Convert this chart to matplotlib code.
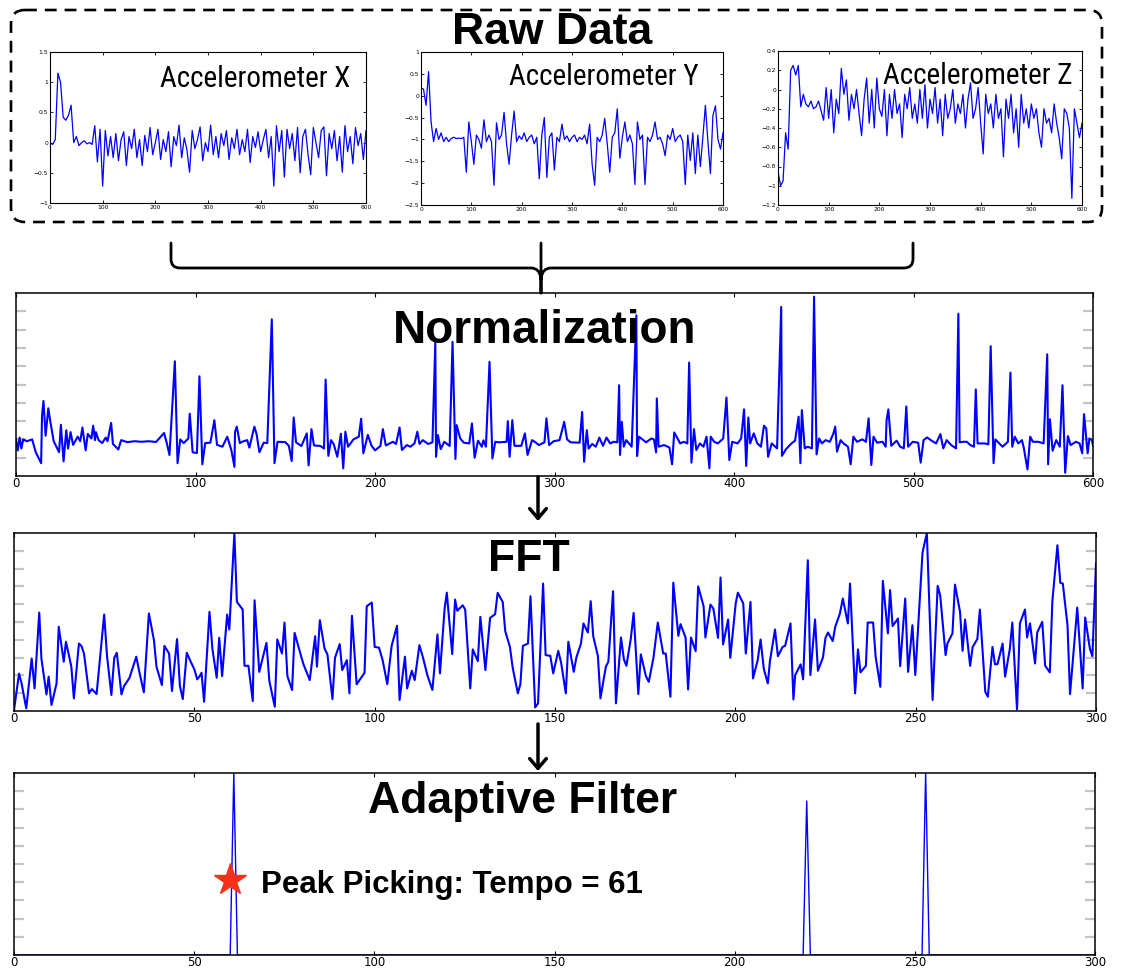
import numpy as np
import matplotlib
matplotlib.use("Agg")
import matplotlib.pyplot as plt
from matplotlib.path import Path
from matplotlib.patches import PathPatch, FancyBboxPatch

W, H = 1122, 969
BLUE = "#0000ff"
STAR_RED = "#f5311a"
TITLE_FONT = ["Liberation Sans", "DejaVu Sans"]
NARROW_FONT = ["Liberation Sans Narrow", "DejaVu Sans Condensed", "Roboto Condensed", "Liberation Sans"]

raw_x = [0.0, -0.03, 0.05, 1.15, 1.0, 0.42, 0.37, 0.45, 0.62, 0.0, 0.1, -0.05, 0.0, 0.03, -0.02, 0.0, -0.03,
         0.28, -0.32, 0.22, -0.72, 0.2, -0.22, 0.1, -0.25, 0.15, -0.3, 0.05, 0.18, -0.38, 0.1, -0.1, 0.22,
         -0.25, 0.05, -0.38, 0.12, -0.15, 0.25, -0.2, 0.0, 0.22, -0.28, 0.05, -0.15, 0.18, -0.4, 0.1, -0.05,
         0.29, -0.25, 0.08, -0.12, -0.49, 0.2, -0.1, 0.05, 0.26, -0.3, 0.0, -0.15, 0.29, -0.2, 0.1, -0.25,
         0.15, -0.05, 0.2, -0.28, 0.08, -0.1, 0.22, -0.2, 0.05, -0.15, 0.22, -0.33, 0.1, -0.08, 0.18, -0.15,
         0.05, 0.22, -0.25, 0.1, -0.72, 0.28, -0.15, 0.2, -0.57, 0.22, -0.1, 0.15, -0.3, 0.25, -0.5, 0.1,
         0.22, -0.2, -0.53, 0.25, 0.0, -0.25, 0.2, 0.26, -0.55, 0.15, -0.1, 0.2, -0.3, 0.1, -0.49, 0.28,
         -0.15, 0.1, -0.35, 0.25, -0.05, 0.15, -0.28, 0.2]
raw_y = [0.18, 0.15, -0.22, 0.55, -0.6, -1.05, -0.75, -1.0, -0.85, -1.05, -0.95, -1.05, -0.98, -0.95, -0.98,
         -0.97, -0.98, -0.95, -1.75, -0.6, -1.05, -1.57, -0.9, -1.0, -1.2, -0.55, -1.05, -0.9, -1.05, -2.05,
         -0.62, -1.0, -0.9, -0.38, -1.1, -1.57, -0.9, -0.35, -1.05, -0.92, -1.0, -0.85, -1.05, -0.95, -0.9,
         -1.1, -0.95, -1.9, -0.9, -0.5, -1.87, -0.95, -0.85, -1.7, -0.95, -1.05, -0.65, -1.0, -0.92, -1.05,
         -0.95, -0.9, -1.05, -0.95, -1.0, -0.9, -1.1, -0.65, -1.57, -2.05, -0.95, -1.05, -0.9, -0.52, -1.1,
         -1.75, -0.95, -0.85, -0.3, -1.43, -0.95, -0.6, -1.05, -0.9, -1.1, -2.03, -0.6, -1.0, -0.9, -2.03,
         -0.95, -1.05, -0.9, -0.6, -1.0, -0.95, -1.1, -1.37, -0.9, -1.0, -0.75, -1.05, -0.95, -0.9, -1.05,
         -2.03, -0.9, -1.48, -0.85, -1.78, -0.9, -1.62, -0.95, -0.22, -1.05, -1.78, -0.45, -0.23, -1.0,
         -1.22, -0.85]
raw_z = [-0.85, -1.0, -0.95, -0.45, -0.62, 0.2, 0.25, 0.15, 0.25, -0.18, -0.05, -0.15, -0.18, -0.12, -0.2,
         -0.18, -0.12, -0.22, -0.32, 0.02, -0.3, 0.0, -0.45, -0.1, -0.25, 0.22, -0.05, 0.1, -0.32, -0.05,
         -0.2, 0.0, -0.25, -0.48, -0.1, 0.12, -0.35, 0.0, -0.4, 0.12, -0.2, -0.28, 0.0, -0.48, -0.05, -0.3,
         0.0, -0.25, -0.15, -0.5, -0.05, -0.2, 0.02, -0.3, -0.15, -0.35, 0.0, -0.3, 0.05, -0.4, -0.1, -0.25,
         0.02, -0.35, -0.1, -0.48, -0.05, -0.3, -0.2, 0.0, -0.35, -0.15, -0.25, -0.05, -0.4, -0.1, 0.07,
         -0.3, -0.2, 0.02, -0.35, -0.67, -0.05, -0.25, -0.15, -0.4, -0.05, -0.3, -0.2, -0.7, -0.1, -0.3,
         -0.05, -0.45, -0.2, -0.6, -0.05, -0.35, -0.2, -0.4, -0.15, -0.3, -0.2, -0.45, -0.6, -0.2, -0.35,
         -0.3, -0.45, -0.15, -0.35, -0.5, -0.72, -0.2, -0.25, -0.4, -1.13, -0.2, -0.35, -0.5, -0.35]

raw_xticks = [0, 100, 200, 300, 400, 500, 600]
x_yticks = [-1, -0.5, 0, 0.5, 1, 1.5]
x_ylabels = ["\u22121", "\u22120.5", "0", "0.5", "1", "1.5"]
y_yticks = [-2.5, -2, -1.5, -1, -0.5, 0, 0.5, 1]
y_ylabels = ["\u22122.5", "\u22122", "\u22121.5", "\u22121", "\u22120.5", "0", "0.5", "1"]
z_yticks = [-1.2, -1, -0.8, -0.6, -0.4, -0.2, 0, 0.2, 0.4]
z_ylabels = ["\u22121.2", "\u22121", "\u22120.8", "\u22120.6", "\u22120.4", "\u22120.2", "0", "0.2", "0.4"]

# --- normalized signal (sample, value in tick units 0..10) ---
norm_pts = [
    (0, 2.0), (1, 1.4), (2, 2.1), (3, 1.5), (4, 2.0), (6, 1.9), (9, 2.0), (11, 1.3), (14, 0.7), (14.5, 3.3),
    (15.3, 4.1), (16.5, 2.2), (18, 3.7), (19, 3.05), (21, 1.9), (24, 1.3), (25, 2.8), (26.5, 0.8), (28, 2.5),
    (29, 1.5), (30.4, 2.4), (31.8, 1.7), (34.4, 2.15), (35.8, 1.9), (37, 2.65), (38.8, 1.4), (40, 2.3),
    (42, 2.05), (43, 2.75), (44, 1.96), (44.5, 2.4), (46, 1.96), (48, 1.8), (50, 2.1), (51, 1.9), (53, 2.9),
    (54, 1.75), (57, 1.45), (58.6, 1.96), (62, 1.85), (66, 1.9), (70, 1.87), (74, 1.9), (78, 1.86),
    (82.5, 2.35), (84, 1.8), (85.5, 1.15), (88.5, 6.27), (90, 0.7), (91.5, 2.0), (93.4, 1.8), (96, 2.05),
    (96.8, 3.4), (98.4, 1.3), (100.8, 1.25), (102.2, 5.45), (103.8, 0.64), (105.4, 1.8), (108.3, 1.82),
    (110.5, 3.05), (112, 1.7), (115, 1.6), (117.7, 2.15), (120, 1.4), (121.7, 0.5), (122, 2.4), (123, 2.7),
    (124.7, 1.8), (126.2, 1.88), (128.8, 1.96), (130, 1.55), (132.8, 2.7), (134, 2.3), (135.6, 1.3),
    (138, 1.82), (140, 1.8), (142.5, 8.56), (144, 0.7), (145.7, 1.87), (150, 1.85), (152, 1.65),
    (153.6, 0.82), (154.7, 3.2), (156, 1.84), (159, 1.64), (162, 2.33), (163, 0.58), (164.6, 2.56),
    (166, 1.67), (169.6, 1.64), (171.6, 1.5), (172.5, 5.27), (174, 1.1), (175.5, 1.96), (177, 1.74),
    (179, 1.05), (181, 2.31), (182.3, 0.42), (183.5, 2.42), (185, 1.6), (188, 2.0), (191, 2.15),
    (192.3, 3.13), (193.5, 1.24), (196, 2.25), (198, 1.67), (200, 1.4), (203, 1.64), (204.4, 2.56),
    (206, 1.67), (210, 1.87), (211.7, 1.75), (213.7, 2.65), (215, 1.42), (217.7, 1.69), (219.7, 1.6),
    (222, 1.78), (223.6, 2.42), (224.8, 1.75), (226.6, 1.96), (229.6, 1.75), (232, 1.84), (233.6, 7.29),
    (234, 1.05), (235, 2.24), (236.6, 1.47), (238.6, 1.87), (241.6, 1.64), (243.2, 7.33), (244.8, 0.93),
    (245.5, 2.78), (247.5, 2.05), (249.5, 1.82), (252.5, 1.78), (254, 2.87), (255.5, 1.0), (257.4, 1.93),
    (259.5, 1.6), (260.4, 1.95), (261.8, 1.6), (263.8, 6.24), (265.4, 0.96), (267, 1.87), (269, 1.84),
    (273.3, 1.87), (274, 3.0), (275, 1.05), (276.5, 3.05), (277.7, 1.65), (281.5, 1.65), (283.5, 2.33),
    (285, 1.15), (287.5, 1.96), (289, 1.87), (291.3, 1.69), (294.4, 1.84), (295.5, 3.15), (297, 1.69),
    (299.5, 1.9), (302.8, 1.96), (305.4, 2.96), (307, 2.0), (309, 1.84), (314, 1.82), (315.4, 3.5),
    (316.5, 0.78), (318, 2.5), (319, 1.5), (321, 1.75), (323, 1.6), (325, 2.1), (327, 1.65), (329, 2.1),
    (331, 1.78), (333, 1.87), (335, 1.84), (336, 4.96), (336.5, 1.15), (337.5, 2.96), (338.6, 1.6),
    (340, 1.96), (343, 1.6), (345.6, 8.78), (346, 1.09), (347, 2.15), (349, 2.0), (351, 1.84), (354, 2.05),
    (355.4, 2.0), (356.6, 1.29), (357, 4.24), (358, 1.6), (361, 1.69), (364, 1.56), (365.5, 0.64),
    (366.7, 2.38), (368, 2.15), (370, 1.78), (372, 1.87), (374, 1.78), (375, 6.2), (376.3, 0.73),
    (377.7, 2.56), (379, 1.42), (381, 1.78), (383, 1.6), (384.7, 2.15), (386.3, 0.42), (387, 2.15),
    (389, 1.87), (391, 1.78), (394, 2.05), (395.8, 4.29), (397.4, 0.87), (399, 1.87), (402, 1.78),
    (404, 2.05), (405.6, 3.64), (406.8, 0.55), (408, 3.2), (409, 1.78), (411, 2.33), (413, 1.78), (415, 1.6),
    (416.7, 2.75), (418, 2.6), (419, 1.05), (421, 1.78), (424, 1.51), (426.3, 9.24), (426.7, 1.1),
    (429, 1.47), (432, 1.78), (434, 1.93), (436, 3.24), (437, 0.7), (437.8, 3.6), (439.4, 1.51), (441, 1.6),
    (443.4, 1.51), (444.6, 9.8), (446, 1.18), (447.4, 2.05), (449, 1.78), (451, 1.96), (453.4, 1.87),
    (455.4, 2.33), (456.4, 2.7), (457.4, 1.33), (459.4, 1.96), (461, 1.78), (463.5, 1.6), (465, 0.64),
    (466.5, 2.15), (468.5, 1.87), (471.5, 2.0), (473.5, 1.87), (475, 3.15), (476.5, 0.6), (477.7, 2.15),
    (479.7, 1.82), (482.7, 1.87), (484.5, 1.6), (485, 3.05), (486, 3.64), (487.6, 1.65), (490.6, 1.93),
    (492.6, 1.6), (494.6, 1.51), (496, 3.8), (497, 1.6), (499.6, 1.87), (502.6, 1.82), (504, 0.73),
    (505.6, 1.96), (507.6, 2.11), (509.6, 1.96), (512.6, 1.78), (515, 2.29), (516.6, 1.51), (518.5, 1.96),
    (521, 1.69), (523.7, 1.51), (525, 8.87), (525.7, 1.84), (527.7, 1.87), (529.7, 1.87), (531.7, 1.69),
    (533.7, 1.6), (534.7, 4.73), (535.7, 1.78), (537.7, 1.78), (539.7, 1.78), (541.7, 1.73), (543, 7.09),
    (544.6, 0.7), (545.6, 2.0), (549.6, 1.6), (552.6, 1.87), (554, 5.65), (555, 1.6), (556.4, 2.15),
    (558.4, 1.78), (560.4, 1.96), (561.4, 1.56), (563.5, 0.36), (565, 2.15), (566.5, 1.87), (569.5, 1.87),
    (572.5, 1.78), (574.5, 6.65), (575, 0.64), (576, 3.1), (577.5, 1.38), (579.5, 1.96), (581.5, 1.6),
    (583, 4.96), (584.5, 0.18), (586, 2.18), (587.5, 1.69), (590.5, 1.87), (592.5, 1.78), (594, 1.24),
    (595, 3.38), (597, 1.24), (598, 2.05), (599.4, 1.96), (600, 1.65)]

# --- FFT magnitude (bin, value in tick units 0..10) ---
fft_pts = [
    (0, 0.05), (1.4, 2.1), (2.1, 1.55), (3.4, 0.15), (4.9, 2.95), (5.7, 1.27), (7, 5.53), (7.6, 2.95),
    (9, 0.93), (9.6, 1.93), (10.4, 0.34), (11.8, 1.55), (12.4, 4.73), (13.8, 2.77), (14.4, 3.89),
    (15.9, 2.49), (16.6, 0.71), (18, 3.79), (18.7, 3.65), (19.4, 3.23), (20.8, 0.99), (21.6, 1.23),
    (22.9, 0.95), (25, 5.42), (25.8, 3.08), (27, 0.9), (27.8, 2.99), (28.5, 3.27), (29.8, 0.93), (30.5, 1.4),
    (32, 1.85), (33.9, 3.05), (34.8, 2.15), (36, 1.05), (37.4, 5.48), (38.8, 3.98), (39.5, 2.49), (41, 1.46),
    (41.7, 3.66), (43, 3.23), (43.8, 1.12), (45.2, 4.04), (46, 1.4), (46.8, 0.67), (47.9, 3.27), (49, 2.77),
    (50, 2.34), (50.8, 1.78), (51.4, 1.93), (52, 2.15), (52.7, 0.52), (54.2, 5.57), (55, 3.51), (56.2, 1.87),
    (56.9, 4.11), (57.7, 1.96), (59.1, 5.42), (59.7, 4.58), (61.1, 10.0), (61.8, 6.13), (63.4, 5.7),
    (63.9, 2.54), (65, 2.54), (66.2, 0.56), (66.7, 6.22), (68, 2.2), (70, 3.83), (70.8, 1.68), (72.3, 0.24),
    (73, 4.02), (74.3, 3.23), (75, 4.97), (75.8, 1.96), (77.1, 1.18), (77.8, 4.39), (79.6, 3.08), (80.3, 2.6),
    (82, 1.74), (83.5, 4.2), (84, 2.49), (84.8, 5.1), (86.1, 3.51), (86.9, 3.18), (88.3, 0.67), (89, 2.99),
    (90.3, 3.76), (91, 2.3), (92.3, 2.86), (93, 0.99), (93.7, 5.35), (95, 1.5), (97.2, 2.15), (97.8, 5.89),
    (99.2, 6.09), (100, 3.6), (101.2, 3.56), (102.2, 2.86), (103.5, 1.51), (104.7, 3.66), (106.2, 4.79),
    (106.9, 0.62), (108.4, 3.05), (109, 1.27), (110.3, 2.26), (111.1, 1.74), (112.4, 3.7), (113.4, 3.0),
    (114.6, 2.02), (116, 1.18), (117.4, 4.3), (118.1, 2.11), (119.4, 5.76), (120, 6.65), (121.5, 3.2),
    (122.3, 6.26), (122.9, 5.63), (124.4, 5.94), (125.1, 5.7), (126.5, 1.27), (127.2, 3.46), (128.6, 2.8),
    (129.3, 5.29), (130.7, 2.3), (132, 5.23), (133.4, 5.44), (134.1, 6.64), (135.5, 6.13), (136.2, 4.49),
    (137.5, 3.6), (138.3, 2.39), (139.7, 0.99), (140.4, 1.51), (141.1, 3.66), (142.5, 3.79), (143.2, 6.45),
    (144.5, 0.2), (145.3, 0.43), (146.7, 7.16), (147.4, 3.14), (148.7, 3.1), (149.5, 2.11), (150.9, 3.38),
    (151.7, 2.71), (153, 0.99), (153.7, 3.89), (155.2, 2.2), (155.9, 2.99), (157.2, 3.79), (157.9, 4.92),
    (159.1, 4.41), (159.9, 6.17), (160.6, 4.2), (161.9, 3.08), (162.6, 0.71), (164.1, 2.49), (164.8, 2.77),
    (166.1, 6.73), (166.9, 0.43), (168.3, 4.13), (169.1, 2.9), (169.8, 2.54), (171, 4.04), (171.8, 5.51),
    (173.1, 0.95), (173.8, 3.18), (175.2, 1.96), (176, 1.64), (177.3, 2.99), (178.5, 4.97), (180, 3.23),
    (180.7, 3.23), (182, 0.8), (182.8, 7.21), (184.2, 4.22), (184.8, 4.88), (186.2, 4.13), (186.9, 1.21),
    (187.7, 4.13), (189, 3.36), (189.7, 7.0), (191.2, 5.89), (191.7, 4.13), (193.1, 5.98), (193.9, 5.76),
    (195.2, 4.11), (195.9, 7.5), (196.6, 3.74), (198, 5.14), (198.6, 2.99), (200.1, 6.04), (200.7, 6.65),
    (202.2, 6.04), (202.9, 3.23), (204.2, 6.13), (204.9, 1.83), (206.2, 2.86), (207, 4.02), (207.9, 2.36),
    (209, 1.55), (209.6, 2.8), (211, 4.58), (211.8, 3.08), (213.1, 3.6), (213.8, 3.66), (215.3, 4.92),
    (216.1, 0.65), (216.6, 2.02), (218.1, 2.62), (218.8, 1.78), (220.1, 8.47), (220.8, 2.02), (222.1, 5.14),
    (222.9, 2.26), (224.3, 3.01), (225, 4.11), (225.7, 4.41), (227, 3.93), (227.7, 4.73), (229, 5.48),
    (229.8, 6.32), (231.2, 4.92), (231.8, 7.16), (233.2, 0.99), (234, 3.46), (234.7, 2.17), (236.2, 2.54),
    (236.7, 4.97), (238.2, 4.97), (238.9, 3.05), (240.2, 1.36), (240.9, 7.31), (242.3, 4.36), (242.9, 6.79),
    (243.6, 4.77), (245.1, 5.2), (245.7, 2.52), (247.1, 6.32), (247.9, 2.2), (249.1, 4.82), (249.9, 2.02),
    (251.9, 8.9), (253.1, 10.0), (254.7, 0.62), (256.1, 7.03), (256.8, 6.5), (258.3, 3.14), (258.8, 3.79),
    (260.2, 4.36), (260.9, 7.1), (262.3, 5.57), (263, 3.38), (263.7, 5.14), (265.1, 2.54), (265.8, 3.6),
    (267.1, 4.04), (267.8, 5.7), (269.3, 1.08), (270, 0.8), (271.3, 3.6), (272, 2.62), (272.7, 2.64),
    (274.1, 3.79), (274.8, 1.93), (276.1, 3.48), (276.8, 4.97), (278.1, 0.09), (278.9, 4.92), (280.3, 5.7),
    (280.9, 4.13), (281.7, 4.92), (283.1, 2.67), (283.7, 4.41), (285.1, 5.01), (285.9, 2.54), (287.2, 2.17),
    (287.9, 6.17), (289.3, 9.31), (290.1, 7.2), (290.8, 7.16), (292.1, 4.82), (292.8, 0.95), (294.8, 5.81),
    (296.3, 1.27), (297, 5.25), (298.3, 3.51), (299, 3.08), (300, 8.28)]

# --- adaptive filter output: three narrow peaks ---
af_x = [0, 60, 61, 62, 219, 220, 221, 252, 253, 254, 300]
af_y = [0, 0, 1.0, 0, 0, 0.846, 0, 0, 1.0, 0, 0]
star_x = [60]
star_y = [0.41]

norm_xticks = [0, 100, 200, 300, 400, 500, 600]
fft_xticks = [0, 50, 100, 150, 200, 250, 300]

fig = plt.figure(figsize=(W / 100, H / 100), dpi=100)


def add_ax(l, t, r, b):
    # box given in pixels from the top-left corner
    return fig.add_axes([l / W, 1 - b / H, (r - l) / W, (b - t) / H])


def raw_panel(box, y, yticks, ylabels):
    ax = add_ax(*box)
    xs = np.linspace(0, 600, len(y))
    ax.plot(xs, y, color=BLUE, lw=0.9)
    ax.set_xlim(0, 600)
    ax.set_ylim(yticks[0], yticks[-1])
    ax.set_xticks(raw_xticks)
    ax.set_yticks(yticks)
    ax.set_yticklabels(ylabels)
    ax.tick_params(direction="in", length=2.5, width=0.6, labelsize=4.3, pad=1.5,
                   top=True, right=True)
    for s in ax.spines.values():
        s.set_linewidth(0.8)
    return ax


def big_panel(box, x, y, xmax, xticks, lw):
    ax = add_ax(*box)
    ax.plot(x, y, color=BLUE, lw=lw)
    ax.set_xlim(0, xmax)
    ax.set_xticks(xticks)
    ax.tick_params(axis="x", direction="in", length=3, width=0.8, top=True,
                   labelsize=8.5, pad=0.8)
    ax.tick_params(axis="y", direction="in", length=7, width=1.6, color="#c4c4c4",
                   right=True, labelleft=False)
    for s in ax.spines.values():
        s.set_linewidth(1.1)
    return ax


raw_panel((50, 52, 366, 203), raw_x, x_yticks, x_ylabels)
raw_panel((421, 52, 723, 205), raw_y, y_yticks, y_ylabels)
raw_panel((778, 51, 1082, 205), raw_z, z_yticks, z_ylabels)

nx, ny = zip(*norm_pts)
ax_n = big_panel((16, 293, 1093, 476), nx, ny, 600, norm_xticks, 1.5)
ax_n.set_ylim(0, 10)
ax_n.set_yticks(range(1, 10))

fx, fy = zip(*fft_pts)
ax_f = big_panel((14, 533, 1096, 711), fx, fy, 300, fft_xticks, 1.5)
ax_f.set_ylim(0, 10)
ax_f.set_yticks(range(1, 10))

ax_a = big_panel((14, 773, 1095, 955), af_x, af_y, 300, fft_xticks, 1.0)
ax_a.set_ylim(0, 1)
ax_a.set_yticks(np.arange(1, 10) / 10)
ax_a.plot(star_x, star_y, marker="*", ms=24, color=STAR_RED, mec=STAR_RED, ls="none",
          clip_on=False, zorder=5)

# --- overlay in pixel coordinates for box, brace, arrows and labels ---
ov = fig.add_axes([0, 0, 1, 1], zorder=10)
ov.set_xlim(0, W)
ov.set_ylim(H, 0)
ov.axis("off")
ov.patch.set_alpha(0)

ov.add_patch(FancyBboxPatch((11, 10), 1091, 212, boxstyle="round,pad=0,rounding_size=14",
                            fill=False, ec="black", lw=1.9, ls=(0, (4.5, 3))))

M, L, C = Path.MOVETO, Path.LINETO, Path.CURVE3
brace = Path(
    [(171, 243), (171, 259), (171, 268), (180, 268), (531, 268), (540, 268), (541, 279), (541, 293),
     (913, 243), (913, 259), (913, 268), (904, 268), (551, 268), (542, 268), (541, 279),
     (541, 243), (541, 293)],
    [M, L, C, C, L, C, C, L,
     M, L, C, C, L, C, C,
     M, L])
ov.add_patch(PathPatch(brace, fill=False, ec="black", lw=2, capstyle="round"))

for y0, y1 in [(477, 521), (724, 771)]:
    ov.annotate("", xy=(538, y1), xytext=(538, y0),
                arrowprops=dict(arrowstyle="->,head_length=0.7,head_width=0.6", lw=2.5,
                                color="black", shrinkA=0, shrinkB=0))

ov.text(552, 44, "Raw Data", ha="center", va="baseline", fontsize=32, fontweight="bold",
        family=TITLE_FONT)
ov.text(545, 343, "Normalization", ha="center", va="baseline", fontsize=33, fontweight="bold",
        family=TITLE_FONT)
ov.text(529, 571, "FFT", ha="center", va="baseline", fontsize=32, fontweight="bold",
        family=TITLE_FONT)
ov.text(523, 813, "Adaptive Filter", ha="center", va="baseline", fontsize=32, fontweight="bold",
        family=TITLE_FONT)
ov.text(261, 893, "Peak Picking: Tempo = 61", ha="left", va="baseline", fontsize=22.5,
        fontweight="bold", family=TITLE_FONT)

for xr, yb, lab in [(350, 87, "Accelerometer X"), (699, 85, "Accelerometer Y"),
                    (1073, 84, "Accelerometer Z")]:
    ov.text(xr, yb, lab, ha="right", va="baseline", fontsize=21, family=NARROW_FONT)

fig.savefig("out.png", dpi=100)
